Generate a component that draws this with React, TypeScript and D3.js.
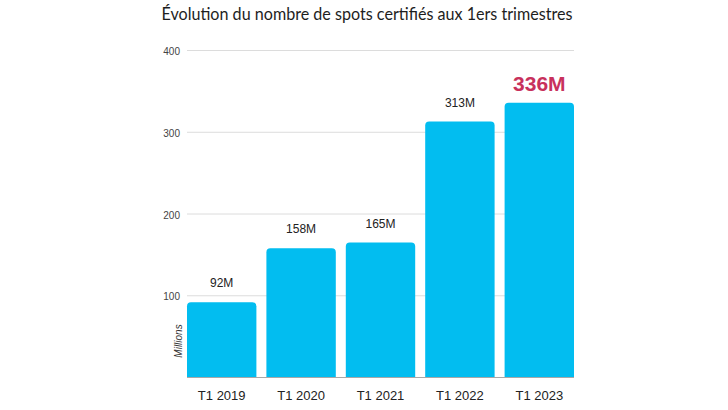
import React from "react";
import * as d3 from "d3";

const categories = ["T1 2019", "T1 2020", "T1 2021", "T1 2022", "T1 2023"];
const values = [92, 158, 165, 313, 336];
const valueLabels = ["92M", "158M", "165M", "313M", "336M"];
const yTicks = [100, 200, 300, 400];
const title = "Évolution du nombre de spots certifiés aux 1ers trimestres";
const yAxisTitle = "Millions";

const W = 728;
const H = 410;
const left = 187;
const right = 574;
const top = 50.5;
const bottom = 377.5;

function roundTopRect(x: number, y: number, w: number, h: number, r: number) {
  const rr = Math.min(r, h, w / 2);
  return `M${x},${y + h}V${y + rr}Q${x},${y} ${x + rr},${y}H${x + w - rr}Q${x + w},${y} ${x + w},${y + rr}V${y + h}Z`;
}

export default function App() {
  const x = d3.scaleBand<string>().domain(categories).range([left, right]).paddingInner(0.126).paddingOuter(0);
  const y = d3.scaleLinear().domain([0, 400]).range([bottom, top]);
  const font = "Liberation Sans, Arial, sans-serif";
  return (
    <svg width={W} height={H} style={{ position: "absolute", left: 0, top: 0, background: "#fff" }}>
      <rect width={W} height={H} fill="#fff" />
      <text x={367} y={20} textAnchor="middle" fontFamily="Lato, sans-serif" fontSize={17.5} fill="#1e1e1e" textLength={411} lengthAdjust="spacingAndGlyphs">
        {title}
      </text>
      {yTicks.map((t) => (
        <g key={t}>
          <line x1={left} x2={right} y1={y(t)} y2={y(t)} stroke="#dcdcdc" strokeWidth={1} />
          <text x={180} y={y(t) + 2} textAnchor="end" dominantBaseline="middle" fontFamily={font} fontSize={10} fill="#444">
            {t}
          </text>
        </g>
      ))}
      {categories.map((c, i) => {
        const bx = x(c)!;
        const by = y(values[i]);
        const last = i === categories.length - 1;
        return (
          <g key={c}>
            <path d={roundTopRect(bx, by, x.bandwidth(), bottom - by, 4)} fill="#02bdf0" />
            <text
              x={bx + x.bandwidth() / 2}
              y={last ? by - 12 : by - 15}
              textAnchor="middle"
              fontFamily={font}
              fontSize={last ? 21 : 12}
              fontWeight={last ? "bold" : "normal"}
              fill={last ? "#c8315c" : "#222"}
            >
              {valueLabels[i]}
            </text>
            <text x={bx + x.bandwidth() / 2} y={400} textAnchor="middle" fontFamily={font} fontSize={13} fill="#222">
              {c}
            </text>
          </g>
        );
      })}
      <line x1={left} x2={right} y1={bottom} y2={bottom} stroke="#a8a8a8" strokeWidth={1} />
      <text
        transform={`translate(181.5,341) rotate(-90)`}
        textAnchor="middle"
        fontFamily={font}
        fontSize={10}
        fontStyle="italic"
        fill="#333"
      >
        {yAxisTitle}
      </text>
    </svg>
  );
}
